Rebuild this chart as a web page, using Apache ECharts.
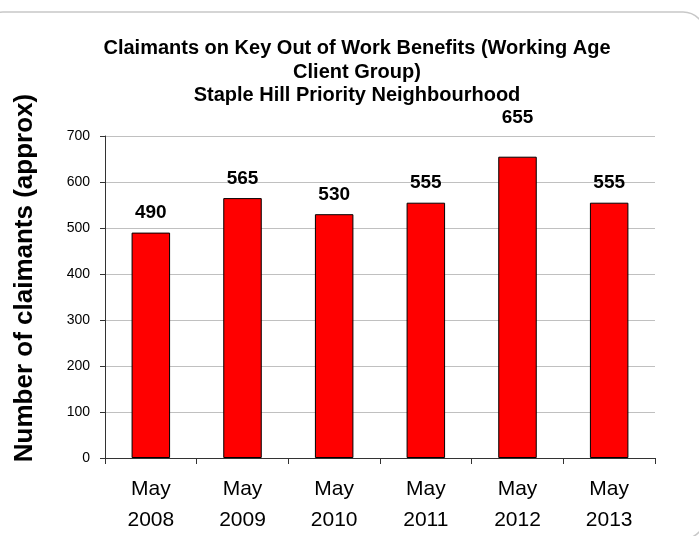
<!DOCTYPE html>
<html>
<head>
<meta charset="utf-8">
<script src="https://cdn.jsdelivr.net/npm/echarts@6/dist/echarts.min.js"></script>
<style>
  html, body { margin: 0; padding: 0; background: #fff; }
  #chart { width: 699px; height: 536px; }
</style>
</head>
<body>
<div id="chart"></div>
<script>
// Claimant counts by survey month
const categories = ['May\n2008', 'May\n2009', 'May\n2010', 'May\n2011', 'May\n2012', 'May\n2013'];
const claimants = [490, 565, 530, 555, 655, 555];
const yTicks = { min: 0, max: 700, interval: 100 };

const titleText = 'Claimants on Key Out of Work Benefits (Working Age\nClient Group)\nStaple Hill Priority Neighbourhood';
const yAxisTitle = 'Number of claimants (approx)';

const FONT = '"Liberation Sans", Arial, sans-serif';

// the tallest bar's label is lifted clear of the top gridline
const peak = Math.max(...claimants);
const barData = claimants.map(v =>
  v === peak ? { value: v, label: { offset: [0, -19] } } : v
);

const chart = echarts.init(document.getElementById('chart'), null, { renderer: 'canvas' });

chart.setOption({
  backgroundColor: '#ffffff',
  animation: false,
  title: {
    text: titleText,
    left: 352,
    textAlign: 'center',
    top: 32,
    textStyle: {
      fontFamily: FONT,
      fontWeight: 'bold',
      fontSize: 20,
      lineHeight: 23.5,
      color: '#000'
    }
  },
  graphic: [
    {
      // rounded frame around the chart area
      type: 'rect',
      silent: true,
      shape: { x: -19, y: 12, width: 724, height: 527, r: 22 },
      style: { fill: 'none', stroke: '#c8c8c8', lineWidth: 1.5 },
      z: -1
    },
    {
      type: 'text',
      silent: true,
      x: 25,
      y: 278,
      rotation: Math.PI / 2,
      style: {
        text: yAxisTitle,
        fontFamily: FONT,
        fontWeight: 'bold',
        fontSize: 26,
        fill: '#000',
        textAlign: 'center',
        textVerticalAlign: 'middle'
      }
    }
  ],
  grid: { left: 105, right: 44, top: 136, bottom: 78, containLabel: false },
  xAxis: {
    type: 'category',
    data: categories,
    axisLine: { lineStyle: { color: '#333', width: 1 } },
    axisTick: { show: true, length: 6, alignWithLabel: false, lineStyle: { color: '#333' } },
    axisLabel: {
      fontFamily: FONT,
      fontSize: 21,
      lineHeight: 31,
      color: '#000',
      margin: 16,
      interval: 0
    }
  },
  yAxis: {
    type: 'value',
    min: yTicks.min,
    max: yTicks.max,
    interval: yTicks.interval,
    axisLine: { show: true, lineStyle: { color: '#333', width: 1 } },
    axisTick: { show: true, length: 5, lineStyle: { color: '#333' } },
    axisLabel: {
      fontFamily: FONT,
      fontSize: 14,
      color: '#000',
      margin: 15
    },
    splitLine: { show: true, lineStyle: { color: '#c0c0c0', width: 1 } }
  },
  series: [
    {
      type: 'bar',
      data: barData,
      barWidth: '42%',
      itemStyle: { color: '#ff0000', borderColor: '#000', borderWidth: 1 },
      label: {
        show: true,
        position: 'top',
        distance: 10,
        fontFamily: FONT,
        fontWeight: 'bold',
        fontSize: 19,
        color: '#000'
      }
    }
  ]
});
</script>
</body>
</html>
